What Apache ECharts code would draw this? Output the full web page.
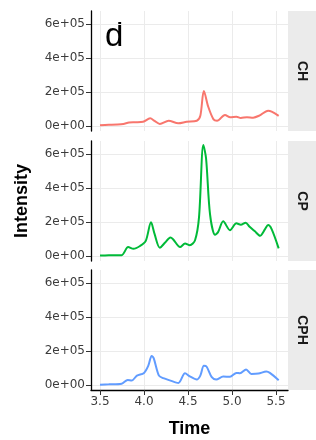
<!DOCTYPE html>
<html lang="en">
<head>
    <meta charset="UTF-8">
    <script src="https://cdn.jsdelivr.net/npm/echarts/dist/echarts.min.js"></script>
    <style>
        body, html { margin: 0; padding: 0; width: 100%; height: 100%; background: #fff; }
        #chart { width: 316px; height: 440px; }
    </style>
</head>
<body>
    <div id="chart"></div>
    <script>
        const xTicks = [3.5, 4.0, 4.5, 5.0, 5.5];
        const yTicks = [0, 200000, 400000, 600000];
        const panels = ['CH', 'CP', 'CPH'];
        const colors = ['#F8766D', '#00BA38', '#619CFF'];

        // [time, intensity]
        const chData = [
            [3.5, 5000], [3.6, 7000], [3.7, 9000], [3.765, 12000], [3.83, 20000], [3.9, 22000],
            [3.99, 25000], [4.07, 45000], [4.12, 30000], [4.18, 12000], [4.28, 31000],
            [4.39, 16000], [4.485, 25000], [4.6, 31000], [4.64, 60000], [4.68, 206000],
            [4.73, 113000], [4.79, 39000], [4.83, 31000], [4.92, 65000], [4.98, 51000],
            [5.05, 55000], [5.1, 47000], [5.17, 52000], [5.24, 49000], [5.31, 61000],
            [5.41, 90000], [5.45, 85000], [5.53, 60000]
        ];
        const cpData = [
            [3.5, 3000], [3.6, 4000], [3.746, 5000], [3.82, 53000], [3.88, 42000],
            [3.955, 59000], [4.02, 89000], [4.08, 198000], [4.12, 130000], [4.18, 49000],
            [4.24, 79000], [4.3, 109000], [4.33, 99000], [4.41, 53000], [4.466, 73000],
            [4.52, 63000], [4.58, 93000], [4.625, 227000], [4.674, 653000], [4.705, 575000],
            [4.75, 247000], [4.807, 125000], [4.84, 139000], [4.9, 204000], [4.977, 152000],
            [5.05, 192000], [5.1, 184000], [5.155, 196000], [5.2, 172000], [5.26, 145000],
            [5.318, 119000], [5.375, 158000], [5.41, 182000], [5.45, 158000], [5.53, 45000]
        ];
        const cphData = [
            [3.5, 2000], [3.6, 4000], [3.746, 8000], [3.815, 30000], [3.86, 26000],
            [3.92, 55000], [4.0, 71000], [4.05, 115000], [4.087, 171000], [4.11, 158000],
            [4.17, 55000], [4.22, 40000], [4.3, 26000], [4.39, 12000], [4.466, 69000],
            [4.52, 51000], [4.6, 32000], [4.64, 55000], [4.68, 113000], [4.71, 109000],
            [4.77, 46000], [4.82, 32000], [4.9, 50000], [4.977, 48000], [5.05, 71000],
            [5.09, 69000], [5.16, 91000], [5.22, 65000], [5.3, 67000], [5.39, 79000],
            [5.43, 71000], [5.53, 28000]
        ];
        const seriesData = [chData, cpData, cphData];

        const panelTops = [11, 141, 270];
        const panelH = 120;
        const panelLeft = 91;
        const panelW = 197;

        function sci(v) {
            if (v === 0) return '0e+00';
            const e = Math.floor(Math.log10(Math.abs(v)));
            const m = Math.round(v / Math.pow(10, e));
            return m + 'e+' + String(e).padStart(2, '0');
        }

        const font = '"Liberation Sans", Arial, sans-serif';
        const tickFont = '"DejaVu Sans", sans-serif';
        const grids = [], xAxes = [], yAxes = [], series = [], graphics = [];

        panels.forEach((name, i) => {
            const last = i === panels.length - 1;
            grids.push({ left: panelLeft, top: panelTops[i], width: panelW, height: panelH });
            xAxes.push({
                type: 'value', gridIndex: i, min: 3.398, max: 5.636,
                axisLine: { show: last, onZero: false, lineStyle: { color: '#000', width: 1.3 } },
                axisTick: { show: last, customValues: xTicks, length: 5, lineStyle: { color: '#333' } },
                axisLabel: {
                    show: last, customValues: xTicks, color: '#3C3C3C', fontSize: 12, fontFamily: tickFont,
                    margin: 6, formatter: v => v.toFixed(1)
                },
                splitLine: { show: true, lineStyle: { color: '#EBEBEB', width: 1 } },
                name: last ? 'Time' : '', nameLocation: 'middle', nameGap: 30,
                nameTextStyle: { fontSize: 18, fontWeight: 'bold', color: '#000', fontFamily: font }
            });
            yAxes.push({
                type: 'value', gridIndex: i, min: -29400, max: 676500,
                axisLine: { show: true, onZero: false, lineStyle: { color: '#000', width: 1.3 } },
                axisTick: { show: true, customValues: yTicks, length: 5, lineStyle: { color: '#333' } },
                axisLabel: {
                    customValues: yTicks, color: '#3C3C3C', fontSize: 12, fontFamily: tickFont,
                    margin: 6, formatter: sci
                },
                splitLine: { show: true, lineStyle: { color: '#EBEBEB', width: 1 } },
                name: i === 1 ? 'Intensity' : '', nameLocation: 'middle', nameGap: 60,
                nameTextStyle: { fontSize: 18, fontWeight: 'bold', color: '#000', fontFamily: font }
            });
            series.push({
                type: 'line', xAxisIndex: i, yAxisIndex: i, data: seriesData[i],
                smooth: 0.3, showSymbol: false, symbol: 'none',
                lineStyle: { color: colors[i], width: 2 }
            });
            graphics.push({
                type: 'rect', left: panelLeft + panelW, top: panelTops[i],
                shape: { width: 316 - panelLeft - panelW, height: panelH },
                style: { fill: '#EBEBEB' }
            });
            graphics.push({
                type: 'text', x: panelLeft + panelW + 14, y: panelTops[i] + panelH / 2,
                rotation: -Math.PI / 2,
                style: {
                    text: name, fontSize: 14, fontWeight: 'bold', fill: '#1A1A1A', fontFamily: font,
                    align: 'center', verticalAlign: 'middle'
                }
            });
        });

        graphics.push({
            type: 'text', left: 105, top: 20,
            style: { text: 'd', fontSize: 33, fill: '#000', fontFamily: font }
        });

        const chart = echarts.init(document.getElementById('chart'));
        chart.setOption({
            animation: false,
            grid: grids,
            xAxis: xAxes,
            yAxis: yAxes,
            series: series,
            graphic: graphics
        });
    </script>
</body>
</html>
